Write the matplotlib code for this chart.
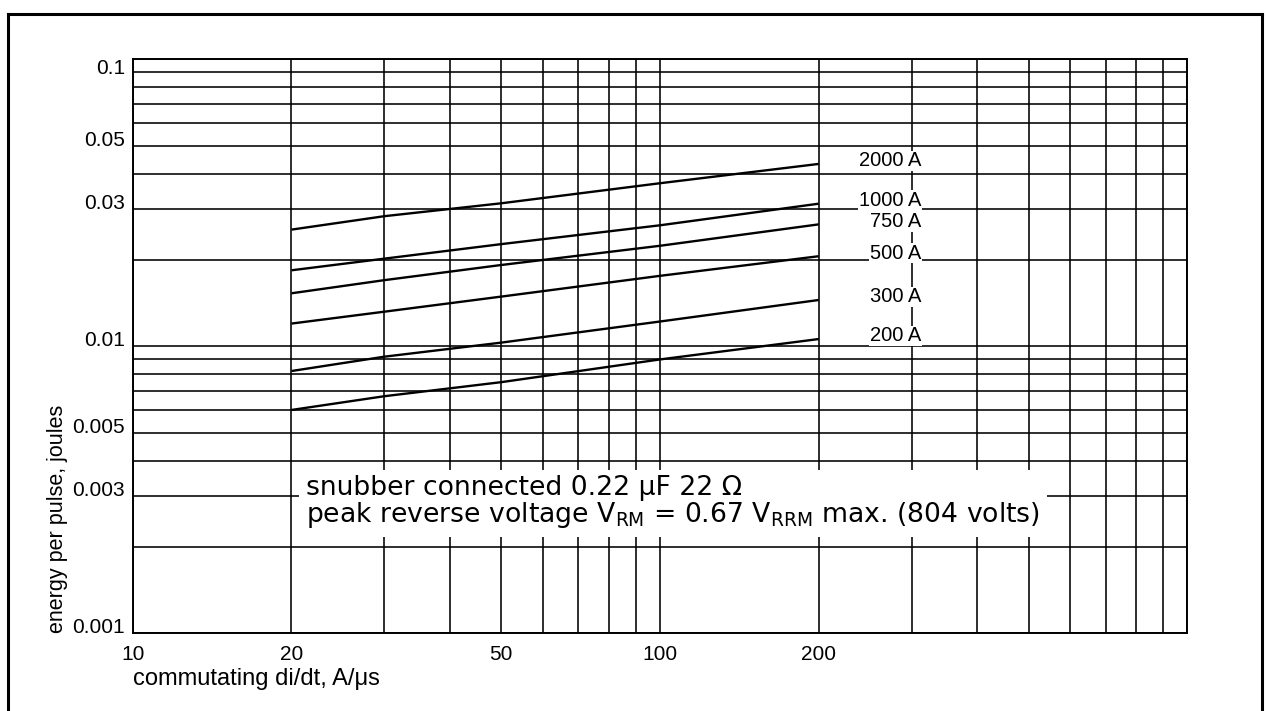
import matplotlib
matplotlib.use("Agg")
import matplotlib.pyplot as plt
from matplotlib.lines import Line2D
from matplotlib.ticker import FixedLocator, NullFormatter

# commutating di/dt, A/us
di_dt = [20, 30, 50, 100, 200]

# energy per pulse (joules), one list per forward current
currents = ["2000 A", "1000 A", "750 A", "500 A", "300 A", "200 A"]
e_2000 = [0.0255, 0.0284, 0.0315, 0.0370, 0.0432]
e_1000 = [0.0184, 0.0202, 0.0227, 0.0264, 0.0314]
e_750 = [0.0153, 0.0170, 0.0192, 0.0224, 0.0266]
e_500 = [0.0120, 0.0132, 0.0149, 0.0176, 0.0206]
e_300 = [0.0082, 0.0092, 0.0103, 0.0122, 0.0145]
e_200 = [0.0060, 0.0067, 0.0075, 0.0090, 0.0106]
series = [e_2000, e_1000, e_750, e_500, e_300, e_200]

x_ticks = [10, 20, 50, 100, 200]
x_ticklabels = ["10", "20", "50", "100", "200"]
y_ticks = [0.001, 0.003, 0.005, 0.01, 0.03, 0.05, 0.1]
y_ticklabels = ["0.001", "0.003", "0.005", "0.01", "0.03", "0.05", "0.1"]

x_grid = [m * d for d in (10, 100) for m in range(2, 10)] + [100, 1000]
y_grid = [m * d for d in (0.001, 0.01) for m in range(2, 10)] + [0.01, 0.1]

label_font = "Liberation Sans"
note_font = "DejaVu Sans"

W, H = 1266, 711
fig = plt.figure(figsize=(W / 100, H / 100), dpi=100)
ax = fig.add_axes([132.7 / W, 1 - 633.3 / H, (1187.3 - 132.7) / W, (633.3 - 59.3) / H])

ax.set_xscale("log")
ax.set_yscale("log")
ax.set_xlim(10, 1000)
ax.set_ylim(0.001, 0.1)

for vals in series:
    ax.plot(di_dt, vals, color="black", lw=1.7, solid_capstyle="butt")

# grid
ax.xaxis.set_major_locator(FixedLocator(x_ticks))
ax.xaxis.set_minor_locator(FixedLocator(x_grid))
ax.yaxis.set_major_locator(FixedLocator(y_ticks))
ax.yaxis.set_minor_locator(FixedLocator(y_grid))
ax.xaxis.set_minor_formatter(NullFormatter())
ax.yaxis.set_minor_formatter(NullFormatter())
ax.set_xticklabels(x_ticklabels, fontfamily=label_font, fontsize=15)
ax.set_yticklabels(y_ticklabels, fontfamily=label_font, fontsize=15)
ax.grid(which="both", color="black", lw=1.15)
ax.tick_params(which="both", length=0)
ax.tick_params(axis="x", pad=8.4)
ax.tick_params(axis="y", pad=5.5)
for t in ax.get_yticklabels():
    t.set_verticalalignment("top" if t.get_text() == "0.1" else "baseline")
for s in ax.spines.values():
    s.set_linewidth(1.4)

# curve labels at the right end of each line
for name, vals in zip(currents, series):
    ax.annotate(name, xy=(di_dt[-1], vals[-1]), xytext=(74, 2.2),
                textcoords="offset points", ha="right", va="center",
                fontfamily=label_font, fontsize=14.5,
                bbox=dict(fc="white", ec="none", pad=0.6))

note = ("snubber connected 0.22 μF 22 Ω\n"
        r"peak reverse voltage V$_{\mathrm{RM}}$ = 0.67 V$_{\mathrm{RRM}}$ max. (804 volts)")
ax.text(0.1643, 0.2279, note, transform=ax.transAxes, ha="left", va="center",
        fontfamily=note_font, fontsize=19.2, linespacing=0.98,
        bbox=dict(fc="white", ec="none", pad=5.0), zorder=4)

fig.text(57 / W, 1 - 519 / H, "energy per pulse, joules", rotation=90,
         ha="center", va="center", fontfamily=label_font, fontsize=15.5)
fig.text(133 / W, 1 - 679 / H, "commutating di/dt, A/μs", ha="left", va="center",
         fontfamily=label_font, fontsize=17)

# outer frame of the scanned page
frame = dict(transform=fig.transFigure, color="black", lw=2.2)
fig.add_artist(Line2D([8 / W, 8 / W], [0, 1 - 14 / H], **frame))
fig.add_artist(Line2D([1262 / W, 1262 / W], [0, 1 - 14 / H], **frame))
fig.add_artist(Line2D([8 / W, 1262 / W], [1 - 14 / H, 1 - 14 / H], **frame))

fig.savefig("out.png", dpi=100)
